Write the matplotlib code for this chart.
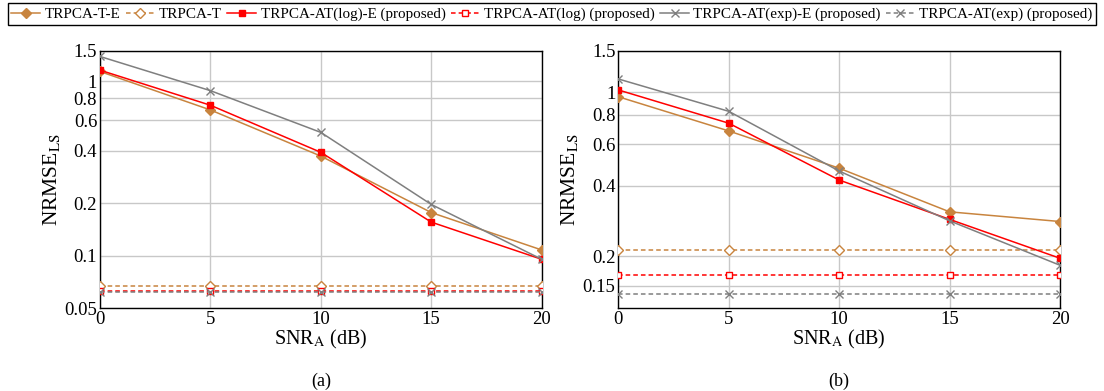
import matplotlib
matplotlib.use("Agg")
import matplotlib.pyplot as plt
from matplotlib.ticker import FixedLocator, FixedFormatter, NullLocator

plt.rcParams['font.family'] = ['Liberation Serif', 'DejaVu Serif']
plt.rcParams['mathtext.fontset'] = 'stix'

snr = [0, 5, 10, 15, 20]

# Panel (a)
a_trpca_t_e = [1.14, 0.686, 0.373, 0.177, 0.108]
a_trpca_t = [0.0671, 0.0671, 0.0671, 0.0671, 0.0671]
a_log_e = [1.16, 0.73, 0.392, 0.156, 0.0955]
a_log = [0.0626, 0.0626, 0.0626, 0.0626, 0.0626]
a_exp_e = [1.39, 0.885, 0.51, 0.197, 0.0955]
a_exp = [0.0624, 0.0624, 0.0624, 0.0624, 0.0624]

# Panel (b)
b_trpca_t_e = [0.955, 0.683, 0.474, 0.309, 0.281]
b_trpca_t = [0.213, 0.213, 0.213, 0.213, 0.213]
b_log_e = [1.021, 0.737, 0.422, 0.287, 0.196]
b_log = [0.166, 0.166, 0.166, 0.166, 0.166]
b_exp_e = [1.137, 0.828, 0.461, 0.283, 0.183]
b_exp = [0.138, 0.138, 0.138, 0.138, 0.138]

a_yticks = [0.05, 0.1, 0.2, 0.4, 0.6, 0.8, 1, 1.5]
a_ylabels = ['0.05', '0.1', '0.2', '0.4', '0.6', '0.8', '1', '1.5']
b_yticks = [0.15, 0.2, 0.4, 0.6, 0.8, 1, 1.5]
b_ylabels = ['0.15', '0.2', '0.4', '0.6', '0.8', '1', '1.5']

legend_names = ['TRPCA-T-E', 'TRPCA-T', 'TRPCA-AT(log)-E (proposed)',
                'TRPCA-AT(log) (proposed)', 'TRPCA-AT(exp)-E (proposed)',
                'TRPCA-AT(exp) (proposed)']

ORANGE = '#C8843E'
RED = '#FF0000'
GRAY = '#7F7F7F'

fig = plt.figure(figsize=(11.04, 3.91), dpi=100)
W, H = 1104, 391
ax_a = fig.add_axes([100 / W, 1 - 308.3 / H, 441.7 / W, 257.6 / H])
ax_b = fig.add_axes([618.3 / W, 1 - 308.3 / H, 441.7 / W, 257.6 / H])

DASH = (0, (3, 2))


def draw(ax, te, t, le, l, ee, e, ymin, yticks, ylabels, tag):
    ax.plot(snr, te, color=ORANGE, lw=1.1, marker='D', ms=5, mfc=ORANGE, mec=ORANGE, zorder=3)
    ax.plot(snr, t, color=ORANGE, lw=1.1, ls=DASH, marker='D', ms=5, mfc='white', mec=ORANGE, zorder=3)
    ax.plot(snr, le, color=RED, lw=1.1, marker='s', ms=5, mfc=RED, mec=RED, zorder=3)
    ax.plot(snr, l, color=RED, lw=1.1, ls=DASH, marker='s', ms=5, mfc='white', mec=RED, zorder=3)
    ax.plot(snr, ee, color=GRAY, lw=1.1, marker='x', ms=5.5, mew=1.0, zorder=3)
    ax.plot(snr, e, color=GRAY, lw=1.1, ls=DASH, marker='x', ms=5.5, mew=1.0, zorder=3)
    ax.set_yscale('log')
    ax.set_xlim(0, 20)
    ax.set_ylim(ymin, 1.5)
    ax.xaxis.set_major_locator(FixedLocator(snr))
    ax.yaxis.set_major_locator(FixedLocator(yticks))
    ax.yaxis.set_major_formatter(FixedFormatter(ylabels))
    ax.yaxis.set_minor_locator(NullLocator())
    ax.grid(True, which='major', color='#C8C8C8', lw=1.0)
    ax.set_axisbelow(True)
    ax.tick_params(axis='both', labelsize=13.5, length=0, pad=2)
    for s in ax.spines.values():
        s.set_linewidth(1.0)
        s.set_color('black')
    ax.set_xlabel(r'SNR$_\mathrm{A}$ (dB)', fontsize=14.5, labelpad=0)
    ax.set_ylabel(r'NRMSE$_\mathrm{LS}$', fontsize=15.5, labelpad=2)
    ax.text(0.5, -0.285, tag, transform=ax.transAxes, ha='center', va='center', fontsize=13)


draw(ax_a, a_trpca_t_e, a_trpca_t, a_log_e, a_log, a_exp_e, a_exp, 0.05, a_yticks, a_ylabels, '(a)')
draw(ax_b, b_trpca_t_e, b_trpca_t, b_log_e, b_log, b_exp_e, b_exp, 0.12, b_yticks, b_ylabels, '(b)')

handles = ax_a.get_lines()
leg = fig.legend(handles, legend_names, loc='upper center', ncol=6,
                 bbox_to_anchor=(0.5, 0.995), fontsize=10.9, frameon=True,
                 fancybox=False, edgecolor='black', framealpha=1,
                 handlelength=1.9, handletextpad=0.3, columnspacing=0.35,
                 borderpad=0.25, borderaxespad=0.1)
leg.get_frame().set_linewidth(1.0)

fig.savefig('out.png', dpi=100)
